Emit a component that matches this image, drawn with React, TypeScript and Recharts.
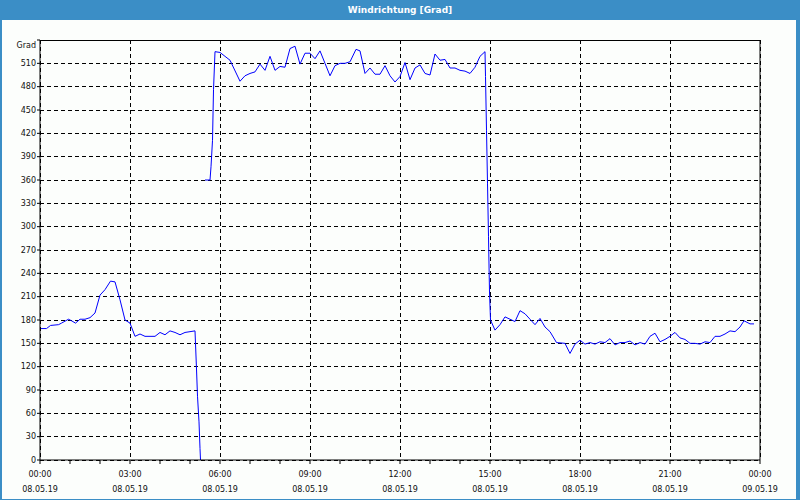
import { LineChart, Line, XAxis, YAxis, CartesianGrid, ReferenceLine } from 'recharts';

// Zeitpunkte in Minuten ab 08.05.19 00:00, Werte in Grad (null = Messlücke)
const minutes = [
  2, 13, 21, 37, 43, 57, 63, 71, 80, 90, 100, 110, 120, 130, 141, 150, 160, 170, 180, 190,
  200, 210, 230, 240, 250, 260, 270, 280, 290, 300, 310, 313, 315, 318, 320, 321, 325,
  330, 340, 342, 345, 347, 350, 360, 370, 380, 400, 410, 420, 430, 440, 450, 460, 470,
  480, 490, 500, 510, 520, 530, 540, 550, 560, 570, 580, 590, 600, 610, 620, 632, 640,
  650, 660, 670, 680, 690, 700, 710, 720, 730, 740, 750, 760, 770, 780, 790, 800, 810,
  820, 830, 840, 850, 860, 870, 880, 890, 891, 893, 895, 897, 899, 901, 910, 920, 930,
  940, 950, 960, 970, 980, 990, 1000, 1010, 1020, 1033, 1050, 1060, 1070, 1080, 1090,
  1100, 1110, 1120, 1130, 1140, 1150, 1160, 1170, 1180, 1190, 1200, 1210, 1220, 1230,
  1240, 1250, 1260, 1270, 1280, 1290, 1300, 1310, 1320, 1330, 1340, 1350, 1360, 1370,
  1380, 1390, 1400, 1408, 1420, 1428,
];
const grad: (number | null)[] = [
  169, 169, 173, 174, 176, 181, 179, 176, 181, 181, 183, 189, 212, 219, 230, 229, 206, 180, 176, 159,
  162, 159, 159, 164, 161, 166, 164, 161, 164, 165, 166, 117, 82, 49, 15, 0, null,
  360, 360, 377, 411, 476, 525, 524, 519, 514, 487, 494, 497, 499, 509, 501, 519, 501,
  506, 505, 529, 532, 509, 523, 523, 516, 526, 510, 494, 507, 510, 510, 512, 528, 526,
  497, 504, 496, 496, 507, 494, 486, 493, 511, 489, 504, 508, 497, 495, 522, 514, 515,
  504, 504, 501, 500, 497, 505, 519, 525, 493, 424, 356, 287, 216, 180, 167, 174, 184,
  181, 178, 192, 188, 181, 174, 182, 171, 165, 151, 150, 137, 149, 154, 149,
  151, 149, 152, 151, 156, 148, 151, 151, 153, 148, 151, 149, 159, 163,
  152, 155, 159, 164, 157, 155, 150, 150, 149, 152, 151, 159, 159, 162,
  166, 165, 171, 179, 175, 175,
];

const hourTicks = Array.from({ length: 25 }, (_, i) => i * 60);
const gridTimes = [0, 180, 360, 540, 720, 900, 1080, 1260, 1440];
const timeLabels = ['00:00', '03:00', '06:00', '09:00', '12:00', '15:00', '18:00', '21:00', '00:00'];
const dateLabels = ['08.05.19', '08.05.19', '08.05.19', '08.05.19', '08.05.19', '08.05.19', '08.05.19', '08.05.19', '09.05.19'];
const gradTicks = [0, 30, 60, 90, 120, 150, 180, 210, 240, 270, 300, 330, 360, 390, 420, 450, 480, 510, 540];
const compassTicks = [0, 45, 90, 135, 180, 225, 270, 315, 360, 405, 450, 495, 540];
const compassLabels = ['N', 'NE', 'E', 'SE', 'S', 'SW', 'W', 'NW', 'N', 'NE', 'E', 'SE', 'S'];

const data = minutes.map((m, i) => ({ t: m, grad: grad[i] }));

const FONT = '"DejaVu Sans", Verdana, sans-serif';
const TEXT = '#111';
const FRAME = '#3b8ec6';

function TimeTick({ x, y, payload }: any) {
  const i = gridTimes.indexOf(payload.value);
  if (i < 0) return <g />;
  return (
    <text x={x} textAnchor="middle" fontSize={8} fill={TEXT} fontFamily={FONT}>
      <tspan x={x} y={y + 11}>{timeLabels[i]}</tspan>
      <tspan x={x} y={y + 26}>{dateLabels[i]}</tspan>
    </text>
  );
}

function GradTick({ x, y, payload }: any) {
  const top = payload.value === 540;
  return (
    <text x={x} y={top ? y + 5 : y} dy="0.35em" textAnchor="end" fontSize={8} fill={TEXT} fontFamily={FONT}>
      {top ? 'Grad' : payload.value}
    </text>
  );
}

function CompassTick({ x, y, payload }: any) {
  const i = compassTicks.indexOf(payload.value);
  return (
    <text x={x} y={y} dy="0.35em" textAnchor="start" fontSize={8} fill={TEXT} fontFamily={FONT}>
      {compassLabels[i]}
    </text>
  );
}

export default function App() {
  return (
    <div style={{ position: 'absolute', left: 0, top: 0, width: 800, height: 500, background: '#fcfefc', fontFamily: FONT }}>
      <div
        style={{
          position: 'absolute', left: 0, top: 0, width: 800, height: 20, background: FRAME,
          color: '#fff', fontWeight: 'bold', fontSize: 9, lineHeight: '20px', textAlign: 'center',
        }}
      >
        Windrichtung [Grad]
      </div>
      <div style={{ position: 'absolute', left: 0, top: 20, width: 2, height: 480, background: FRAME }} />
      <div style={{ position: 'absolute', right: 0, top: 20, width: 4, height: 480, background: FRAME }} />
      <div style={{ position: 'absolute', left: 0, bottom: 0, width: 800, height: 1, background: FRAME }} />
      <div style={{ position: 'absolute', left: 0, top: 20 }}>
        <LineChart width={800} height={480} data={data} margin={{ top: 20, right: 0, left: 0, bottom: 0 }}>
          <CartesianGrid
            stroke="#000"
            strokeDasharray="4 3"
            horizontalValues={gradTicks}
            verticalValues={gridTimes}
            shapeRendering="crispEdges"
          />
          <XAxis
            dataKey="t"
            type="number"
            domain={[0, 1440]}
            ticks={hourTicks}
            interval={0}
            height={40}
            tickSize={4}
            tickMargin={2}
            stroke="#000"
            tick={<TimeTick />}
          />
          <YAxis
            type="number"
            domain={[0, 540]}
            ticks={gradTicks}
            interval={0}
            width={40}
            tickSize={3}
            tickMargin={1}
            stroke="#000"
            tick={<GradTick />}
          />
          <YAxis
            yAxisId="right"
            orientation="right"
            type="number"
            domain={[0, 540]}
            ticks={compassTicks}
            interval={0}
            width={40}
            tickSize={3}
            tickMargin={2}
            stroke="#000"
            tick={<CompassTick />}
          />
          <ReferenceLine y={540} stroke="#000" shapeRendering="crispEdges" />
          <Line
            type="linear"
            dataKey="grad"
            stroke="#0000ff"
            strokeWidth={1}
            dot={false}
            connectNulls={false}
            isAnimationActive={false}
          />
        </LineChart>
      </div>
    </div>
  );
}
